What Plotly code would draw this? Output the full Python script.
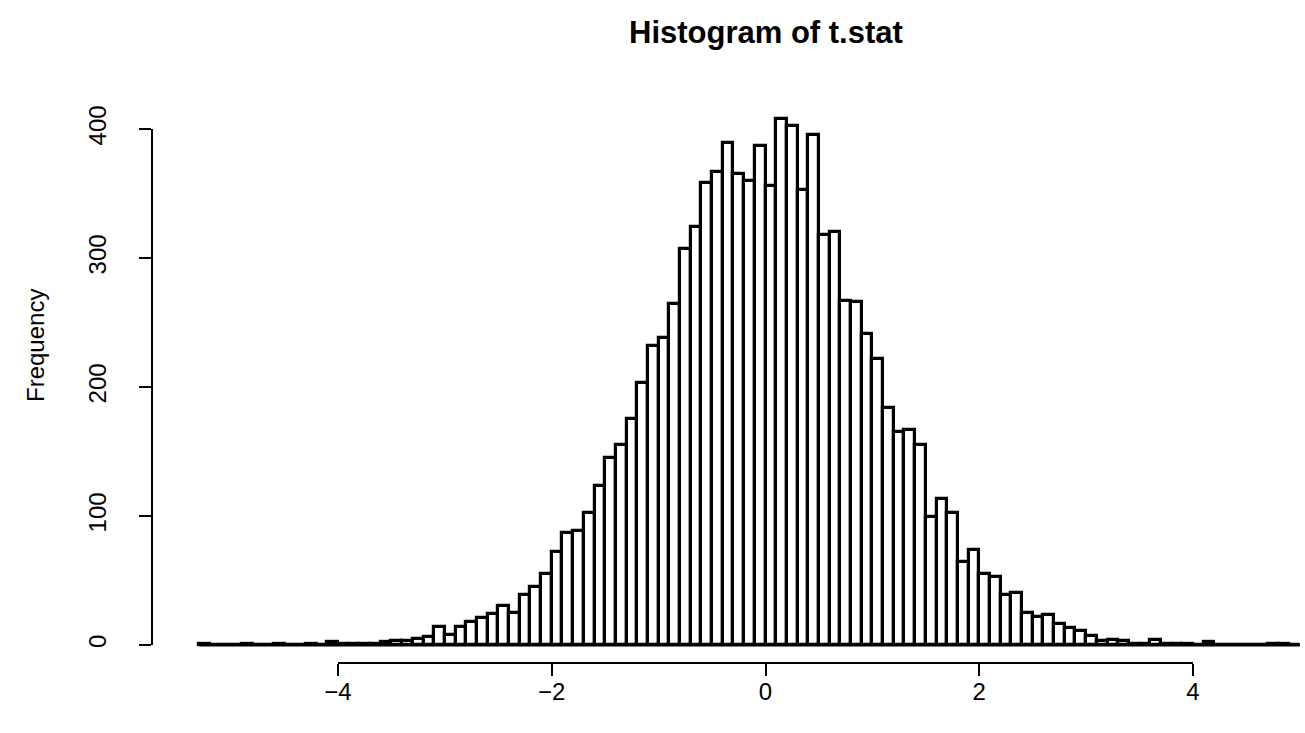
import numpy as np
import plotly.graph_objects as go

# Histogram bins of width 0.1 and the count in each bin
breaks = np.round(np.linspace(-5.3, 5.0, 104), 1)
counts = [
    1, 0, 0, 0, 1, 0, 0, 1, 0, 0,
    1, 0, 2, 1, 1, 1, 1, 2, 3, 3,
    5, 6, 14, 8, 14, 18, 21, 24, 30, 25,
    39, 45, 55, 72, 87, 88, 102, 123, 145, 155,
    175, 203, 232, 238, 264, 307, 324, 358, 367, 389,
    365, 360, 387, 356, 408, 402, 353, 395, 318, 320,
    267, 266, 241, 222, 184, 165, 167, 155, 99, 113,
    102, 64, 74, 55, 53, 39, 40, 25, 22, 23,
    16, 13, 11, 7, 3, 4, 3, 1, 1, 4,
    1, 1, 1, 0, 2, 0, 0, 0, 0, 0,
    1, 1, 0,
]
x_ticks = [-4, -2, 0, 2, 4]
x_tick_labels = ["\u22124", "\u22122", "0", "2", "4"]
y_ticks = [0, 100, 200, 300, 400]

mids = (breaks[:-1] + breaks[1:]) / 2
bin_width = float(breaks[1] - breaks[0])

W, H = 1305, 733
FONT = "Liberation Sans, Arial, sans-serif"


def px_x(p):
    return p / W


def px_y(p):
    return 1 - p / H


# pixel layout of the axes
X_LEFT_PX, X_RIGHT_PX = 338.0, 1193.0      # where -4 and 4 sit
Y_ZERO_PX, Y_TOP_PX = 645.0, 129.0         # where 0 and 400 sit
x_scale = (X_RIGHT_PX - X_LEFT_PX) / (x_ticks[-1] - x_ticks[0])
y_scale = (Y_ZERO_PX - Y_TOP_PX) / (y_ticks[-1] - y_ticks[0])
x_range = [x_ticks[0] - X_LEFT_PX / x_scale, x_ticks[-1] + (W - X_RIGHT_PX) / x_scale]
y_range = [-(H - Y_ZERO_PX) / y_scale, Y_ZERO_PX / y_scale]

fig = go.Figure()

fig.add_trace(go.Bar(
    x=mids, y=counts, width=bin_width,
    marker=dict(color="white", line=dict(color="black", width=3.2)),
    xaxis="x", yaxis="y", hoverinfo="x+y",
))
# common bottom edge of all bins (empty bins included)
fig.add_trace(go.Scatter(
    x=[breaks[0], breaks[-1]], y=[0, 0], mode="lines",
    line=dict(color="black", width=3.2), xaxis="x", yaxis="y", hoverinfo="skip",
))
# carrier for the drawn axes
fig.add_trace(go.Scatter(
    x=x_ticks, y=y_ticks, mode="markers", marker=dict(opacity=0),
    xaxis="x2", yaxis="y2", hoverinfo="skip",
))

axis_common = dict(
    showgrid=False, zeroline=False, showline=True, linecolor="black",
    linewidth=1.8, ticks="outside", ticklen=12, tickwidth=1.8,
    tickcolor="black", tickfont=dict(family=FONT, size=24, color="black"),
    fixedrange=True, automargin=False,
)

fig.update_layout(
    template="none",
    width=W, height=H,
    margin=dict(l=0, r=0, t=0, b=0, pad=0, autoexpand=False),
    paper_bgcolor="white", plot_bgcolor="rgba(0,0,0,0)",
    showlegend=False, bargap=0,
    xaxis=dict(domain=[0, 1], range=x_range, visible=False, fixedrange=True,
               automargin=False),
    yaxis=dict(domain=[0, 1], range=y_range, visible=False, fixedrange=True,
               anchor="x", automargin=False),
    xaxis2=dict(domain=[px_x(X_LEFT_PX), px_x(X_RIGHT_PX)],
                range=[x_ticks[0], x_ticks[-1]], anchor="free",
                position=px_y(663), tickvals=x_ticks, ticktext=x_tick_labels,
                ticklabelstandoff=-5, **axis_common),
    yaxis2=dict(domain=[px_y(Y_ZERO_PX), px_y(Y_TOP_PX)],
                range=[y_ticks[0], y_ticks[-1]], anchor="free",
                position=px_x(152), tickvals=y_ticks,
                ticktext=[str(v) for v in y_ticks], tickangle=-90,
                ticklabelstandoff=24, **axis_common),
    annotations=[
        dict(text="<b>Histogram of t.stat</b>", xref="paper", yref="paper",
             x=px_x(765.5), y=px_y(33), xanchor="center", yanchor="middle",
             showarrow=False,
             font=dict(family=FONT, size=31, color="black")),
        dict(text="Frequency", xref="paper", yref="paper",
             x=px_x(35), y=px_y(346), xanchor="center", yanchor="middle",
             textangle=-90, showarrow=False,
             font=dict(family=FONT, size=24, color="black")),
    ],
)

fig.write_html("out.html")
